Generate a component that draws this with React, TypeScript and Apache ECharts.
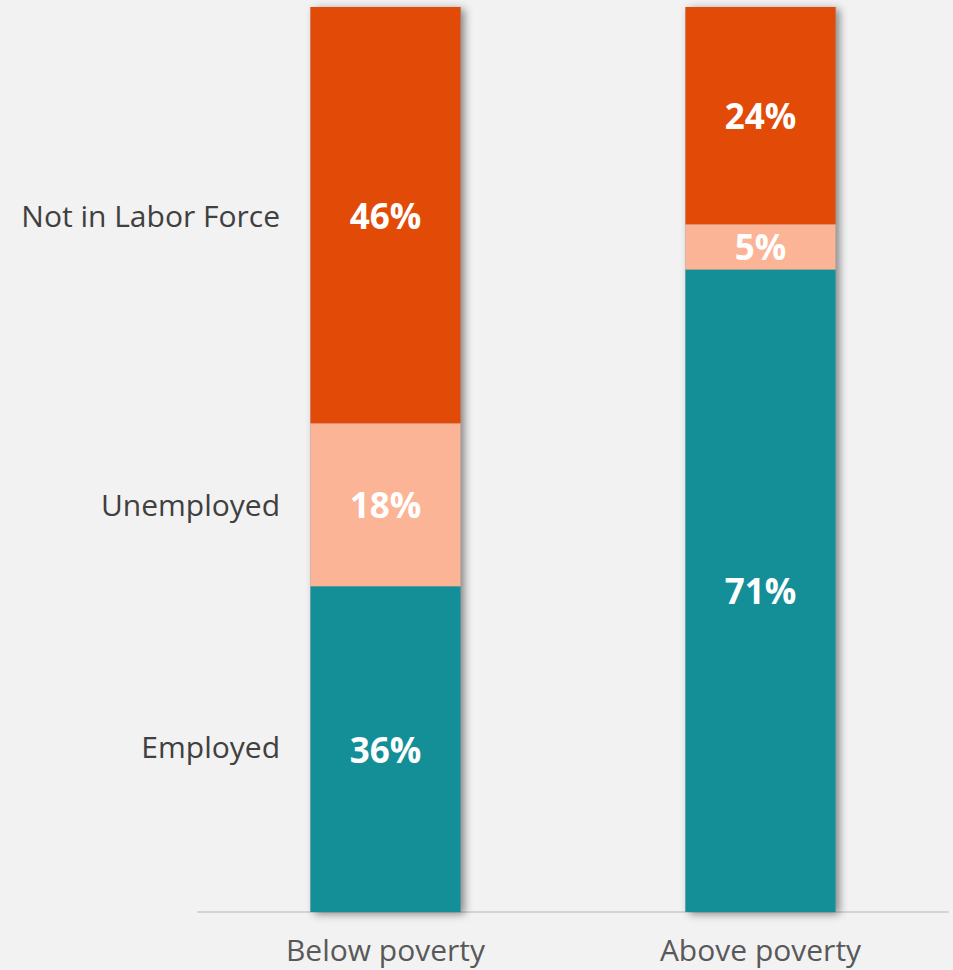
import React, { useEffect, useRef } from "react";
import * as echarts from "echarts";

const categories = ["Below poverty", "Above poverty"];
const seriesNames = ["Employed", "Unemployed", "Not in Labor Force"];
const employed = [36, 71];
const unemployed = [18, 5];
const notInLaborForce = [46, 24];
const seriesColors = ["#148F98", "#FBB496", "#E24A07"];

const FONT = "'Open Sans', 'Noto Sans', sans-serif";

export default function App() {
  const ref = useRef<HTMLDivElement>(null);
  useEffect(() => {
    if (!ref.current) return;
    const chart = echarts.init(ref.current, undefined, { renderer: "svg" });
    const values = [employed, unemployed, notInLaborForce];
    const totals = categories.map((_, i) => values.reduce((s, v) => s + v[i], 0));
    chart.setOption({
      animation: false,
      backgroundColor: "#F2F2F2",
      grid: { left: 198, right: 5, top: 7, bottom: 58 },
      xAxis: {
        type: "category",
        data: categories,
        axisLine: { lineStyle: { color: "#D4D4D4", width: 2 } },
        axisTick: { show: false },
        axisLabel: { fontSize: 30, color: "#595959", margin: 22, fontFamily: FONT },
      },
      yAxis: { type: "value", min: 0, max: 100, show: false, splitLine: { show: false } },
      series: [
        {
          type: "bar",
          name: "column",
          data: totals,
          barWidth: "40%",
          barGap: "-100%",
          silent: true,
          z: 1,
          itemStyle: {
            color: "#888888",
            shadowBlur: 8,
            shadowOffsetX: 4,
            shadowOffsetY: 2,
            shadowColor: "rgba(0,0,0,0.45)",
          },
        },
        ...seriesNames.map((name, k) => ({
          type: "bar",
          name,
          stack: "total",
          data: values[k],
          barWidth: "40%",
          barGap: "-100%",
          z: 2,
          itemStyle: { color: seriesColors[k] },
          label: {
            show: true,
            position: "inside",
            formatter: "{c}%",
            color: "#FFFFFF",
            fontSize: 35,
            fontWeight: "bold",
            fontFamily: FONT,
          },
        })),
      ],
    });
    let cum = 0;
    const texts = seriesNames.map((name, k) => {
      const mid = cum + values[k][0] / 2;
      cum += values[k][0];
      const p = chart.convertToPixel({ gridIndex: 0 }, [0, mid]) as number[];
      return {
        type: "text",
        x: 280,
        y: p[1] - (k === 0 ? 3 : 0),
        style: {
          text: name,
          fontSize: 30,
          fill: "#404040",
          fontFamily: FONT,
          textAlign: "right",
          textVerticalAlign: "middle",
        },
      };
    });
    chart.setOption({ graphic: texts });
    return () => chart.dispose();
  }, []);
  return (
    <div
      ref={ref}
      style={{ position: "absolute", left: 0, top: 0, width: 953, height: 970 }}
    />
  );
}
